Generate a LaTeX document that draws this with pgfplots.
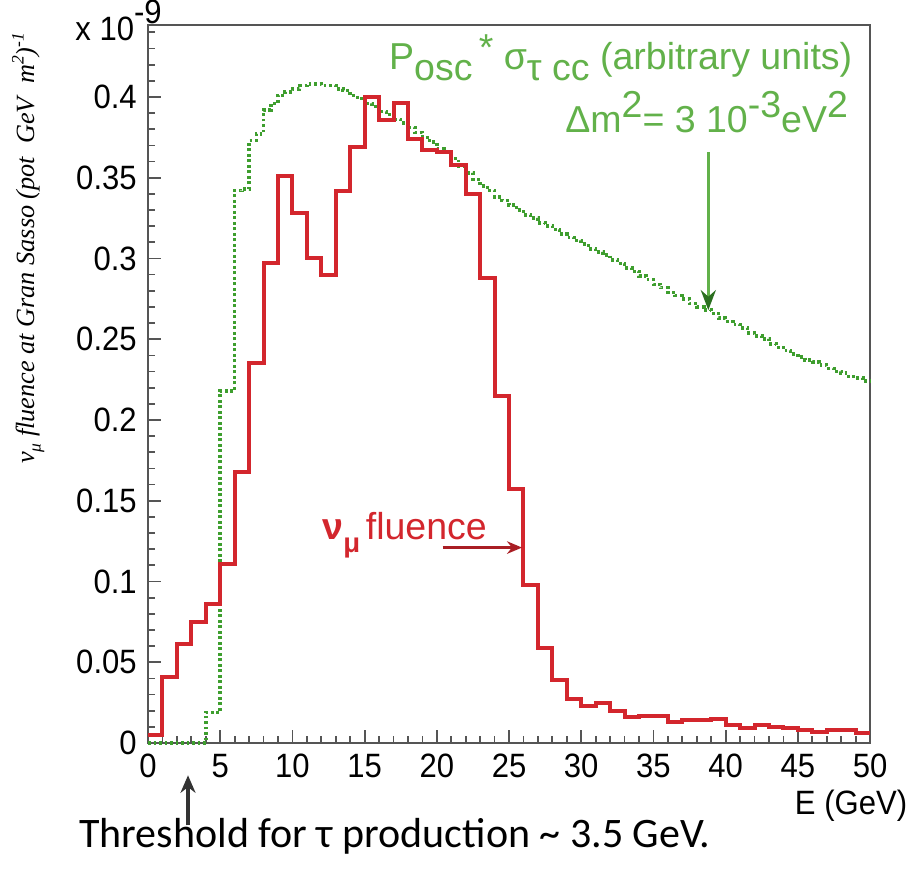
\documentclass[border=0pt]{standalone}
\usepackage{pgfplots}
\pgfplotsset{compat=1.18}
\usetikzlibrary{arrows.meta}
\usepackage{fontspec}
\setmainfont{Liberation Sans}
\newfontfamily\narrow[FakeStretch=0.92]{Liberation Sans}
\newfontfamily\serifit{Liberation Serif}
\newfontfamily\calib{Carlito}
\definecolor{histred}{HTML}{D3262D}
\definecolor{histgreen}{HTML}{3E9E2E}
\definecolor{txtgreen}{HTML}{62B14A}
\definecolor{framec}{HTML}{555555}

\begin{document}
\begin{tikzpicture}
\begin{axis}[
  scale only axis, width=288.8pt, height=287.2pt,
  xmin=0, xmax=50, ymin=0, ymax=0.4446,
  clip=false, tick pos=left,
  axis line style={draw=framec, line width=0.9pt},
  tick style={draw=framec, line width=0.7pt},
  major tick length=5pt, minor tick length=2.6pt,
  xtick={0,5,...,50}, minor xtick={0,1,...,50},
  ytick={0,0.05,0.1,0.15,0.2,0.25,0.3,0.35,0.4},
  yticklabels={0,0.05,0.1,0.15,0.2,0.25,0.3,0.35,0.4},
  minor ytick={0,0.01,...,0.441},
  /pgf/number format/assume math mode=true,
  ticklabel style={font=\narrow\fontsize{13.5}{14}\selectfont},
  xticklabel style={yshift=-1pt},
  yticklabel style={xshift=-1pt},
]
% P_osc * sigma_tau_cc (arbitrary units), bins of 0.5 GeV
\addplot[const plot, mark=none, draw=histgreen, line width=1.4pt,
  dash pattern=on 1.1pt off 1.1pt] coordinates {
 (0,0) (4.0,0.019) (4.5,0.019) (5.0,0.218) (5.5,0.218) (6.0,0.342) (6.5,0.343)
 (7.0,0.373) (7.5,0.377) (8.0,0.392) (8.5,0.396) (9.0,0.401) (9.5,0.403)
 (10.0,0.405) (10.5,0.407) (11.0,0.408) (11.5,0.408) (12.0,0.407) (12.5,0.407)
 (13.0,0.405) (13.5,0.404) (14.0,0.401) (14.5,0.399) (15.0,0.396) (15.5,0.394)
 (16.0,0.391) (16.5,0.389) (17.0,0.386) (17.5,0.384) (18.0,0.381) (18.5,0.378)
 (19.0,0.375) (19.5,0.372) (20.0,0.368) (20.5,0.366) (21.0,0.362) (21.5,0.357)
 (22.0,0.353) (22.5,0.349) (23.0,0.345) (23.5,0.342) (24.0,0.338) (24.5,0.336)
 (25.0,0.333) (25.5,0.330) (26.0,0.327) (26.5,0.325) (27.0,0.322) (27.5,0.320)
 (28.0,0.318) (28.5,0.315) (29.0,0.313) (29.5,0.311) (30.0,0.309) (30.5,0.306)
 (31.0,0.304) (31.5,0.302) (32.0,0.299) (32.5,0.297) (33.0,0.294) (33.5,0.292)
 (34.0,0.289) (34.5,0.287) (35.0,0.284) (35.5,0.282) (36.0,0.279) (36.5,0.277)
 (37.0,0.275) (37.5,0.272) (38.0,0.270) (38.5,0.268) (39.0,0.266) (39.5,0.263)
 (40.0,0.261) (40.5,0.259) (41.0,0.257) (41.5,0.254) (42.0,0.252) (42.5,0.250)
 (43.0,0.247) (43.5,0.245) (44.0,0.243) (44.5,0.241) (45.0,0.239) (45.5,0.237)
 (46.0,0.236) (46.5,0.234) (47.0,0.232) (47.5,0.230) (48.0,0.229) (48.5,0.227)
 (49.0,0.226) (49.5,0.224) (50.0,0.224)};
% nu_mu fluence, bins of 1 GeV
\addplot[const plot, mark=none, draw=histred, line width=1.6pt] coordinates {
 (0,0.005) (1,0.041) (2,0.061) (3,0.075) (4,0.086) (5,0.111) (6,0.168)
 (7,0.235) (8,0.297) (9,0.351) (10,0.328) (11,0.300) (12,0.290) (13,0.342)
 (14,0.369) (15,0.400) (16,0.386) (17,0.396) (18,0.374) (19,0.367) (20,0.366)
 (21,0.358) (22,0.340) (23,0.288) (24,0.215) (25,0.157) (26,0.098) (27,0.059)
 (28,0.039) (29,0.027) (30,0.023) (31,0.025) (32,0.020) (33,0.016) (34,0.017)
 (35,0.017) (36,0.013) (37,0.014) (38,0.014) (39,0.015) (40,0.011) (41,0.009)
 (42,0.011) (43,0.010) (44,0.009) (45,0.008) (46,0.007) (47,0.008) (48,0.008)
 (49,0.006) (50,0.006)};
% annotations
\node[anchor=base east, text=txtgreen, font=\fontsize{15}{16}\selectfont, inner sep=0pt]
  at (axis cs:48.8,0.417)
  {P\raisebox{-0.3em}{osc}\,\raisebox{0.25em}{*} σ\raisebox{-0.3em}{τ cc} (arbitrary units)};
\node[anchor=base east, text=txtgreen, font=\fontsize{15}{16}\selectfont, inner sep=0pt]
  at (axis cs:48.5,0.378)
  {Δm\raisebox{0.4em}{2}= 3 10\raisebox{0.4em}{-3}eV\raisebox{0.4em}{2}};
\draw[txtgreen, line width=1.2pt, -{Stealth[length=8pt,width=6pt,color=histgreen!70!black]}]
  (axis cs:38.8,0.366) -- (axis cs:38.8,0.268);
\node[anchor=base west, text=histred, font=\fontsize{15}{16}\selectfont, inner sep=0pt]
  at (axis cs:12.05,0.126)
  {\textbf{ν}\raisebox{-0.35em}{\fontsize{11}{12}\selectfont\textbf{μ}}\hspace{0.15em}fluence};
\draw[histred!80!black, line width=1.1pt, -{Stealth[length=6pt,width=5pt]}]
  (axis cs:20.4,0.121) -- (axis cs:25.9,0.121);
% outside the frame
\node[anchor=base west, font=\narrow\fontsize{13.5}{14}\selectfont, inner sep=0pt]
  at (axis cs:-5.06,0.435) {x 10\raisebox{0.5em}{-9}};
\node[rotate=90, anchor=east, inner sep=0pt, font=\serifit\itshape\fontsize{10.5}{12}\selectfont]
  at (axis cs:-8.3,0.440)
  {ν\raisebox{-0.25em}{\fontsize{7}{8}\selectfont μ} fluence at Gran Sasso (pot\enspace GeV\enspace m\raisebox{0.4em}{\fontsize{7}{8}\selectfont 2})\raisebox{0.4em}{\fontsize{7}{8}\selectfont -1}};
\node[anchor=base east, font=\narrow\fontsize{13.5}{14}\selectfont, inner sep=0pt]
  at (axis cs:52.6,-0.044) {E (GeV)};
\draw[black!80, line width=1.3pt, -{Stealth[length=7pt,width=6pt]}]
  (axis cs:2.77,-0.051) -- (axis cs:2.77,-0.020);
\node[anchor=base, font=\calib\fontsize{16.8}{18}\selectfont, inner sep=0pt]
  at (axis cs:17.1,-0.0644) {Threshold for τ production \textasciitilde{} 3.5 GeV.};
\path (axis cs:-10.25,-0.0811) rectangle (axis cs:53.32,0.4588);
\end{axis}
\end{tikzpicture}
\end{document}
